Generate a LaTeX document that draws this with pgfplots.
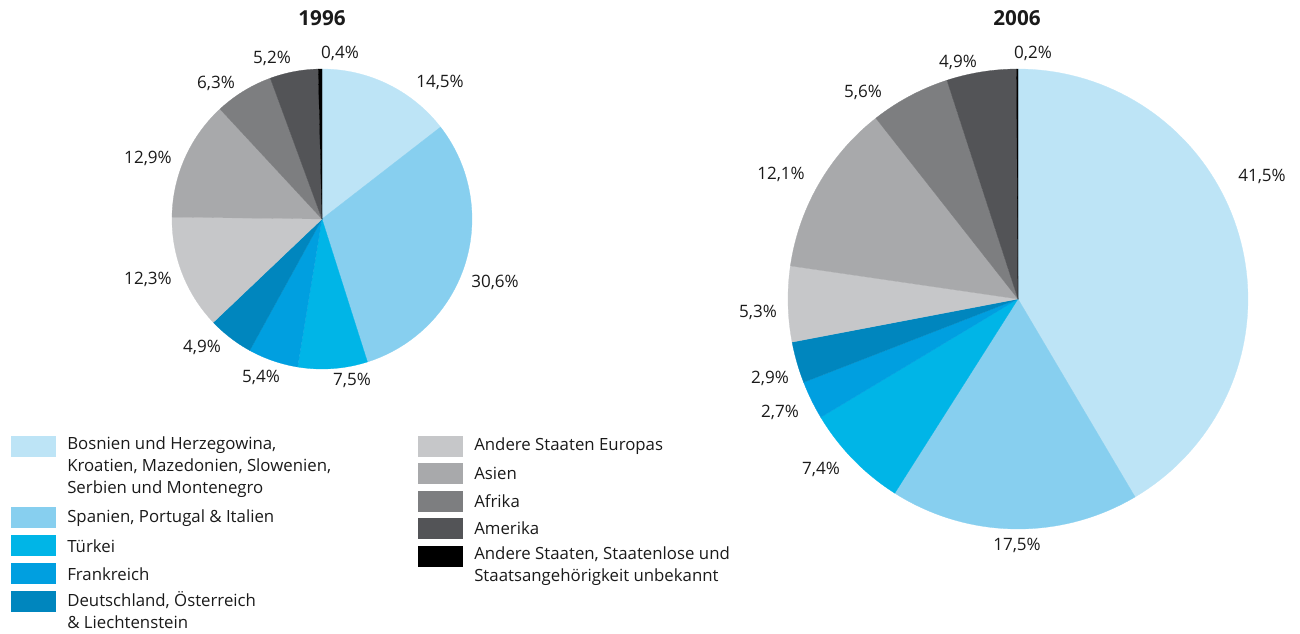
\documentclass[border=0pt]{standalone}
\usepackage{pgfplots}
\pgfplotsset{compat=1.18}
\usepackage{fontspec}
\setmainfont{Open Sans}
\definecolor{c1}{HTML}{BDE4F6}
\definecolor{c2}{HTML}{87CFEF}
\definecolor{c3}{HTML}{00B5E7}
\definecolor{c4}{HTML}{009FE0}
\definecolor{c5}{HTML}{0086BE}
\definecolor{c6}{HTML}{C6C7C9}
\definecolor{c7}{HTML}{A8A9AB}
\definecolor{c8}{HTML}{7D7E80}
\definecolor{c9}{HTML}{535457}
\definecolor{c10}{HTML}{000000}
\definecolor{txt}{HTML}{1A1A1A}
% #1 cx, #2 cy, #3 r, #4 cumulative start %, #5 cumulative end %, #6 colour
\newcommand{\sector}[6]{%
  \addplot[draw=#6, line width=0.2pt, fill=#6, domain={90-3.6*#5}:{90-3.6*#4}, samples=80]
    ({#1+#3*cos(x)},{#2+#3*sin(x)}) -- (axis cs:#1,#2) -- cycle;
}
\newcommand{\lab}[3]{\node[font=\fontsize{12.8}{15}\selectfont, text=txt] at (axis cs:#1,#2) {#3};}
\newcommand{\swatch}[3]{\fill[#3] (axis cs:#1,#2) rectangle (axis cs:#1+45,#2-21);}
\tikzset{leg/.style={inner sep=0pt, text=txt, font=\fontsize{12.6}{16.5}\selectfont}}
\begin{document}
\begin{tikzpicture}
\begin{axis}[
  at={(0,0)}, anchor=south west,
  scale only axis, width=975pt, height=474.75pt,
  xmin=0, xmax=1300, ymin=0, ymax=633,
  hide axis, clip=false,
]
% ---- 1996: shares 14.5 30.6 7.5 5.4 4.9 12.3 12.9 6.3 5.2 0.4
\sector{322}{414}{150}{0}{14.5}{c1}
\sector{322}{414}{150}{14.5}{45.1}{c2}
\sector{322}{414}{150}{45.1}{52.6}{c3}
\sector{322}{414}{150}{52.6}{58.0}{c4}
\sector{322}{414}{150}{58.0}{62.9}{c5}
\sector{322}{414}{150}{62.9}{75.2}{c6}
\sector{322}{414}{150}{75.2}{88.1}{c7}
\sector{322}{414}{150}{88.1}{94.4}{c8}
\sector{322}{414}{150}{94.4}{99.6}{c9}
\sector{322}{414}{150}{99.6}{100}{c10}
% ---- 2006: shares 41.5 17.5 7.4 2.7 2.9 5.3 12.1 5.6 4.9 0.2
\sector{1018}{334}{230}{0}{41.5}{c1}
\sector{1018}{334}{230}{41.5}{59.0}{c2}
\sector{1018}{334}{230}{59.0}{66.4}{c3}
\sector{1018}{334}{230}{66.4}{69.1}{c4}
\sector{1018}{334}{230}{69.1}{72.0}{c5}
\sector{1018}{334}{230}{72.0}{77.3}{c6}
\sector{1018}{334}{230}{77.3}{89.4}{c7}
\sector{1018}{334}{230}{89.4}{95.0}{c8}
\sector{1018}{334}{230}{95.0}{99.9}{c9}
\sector{1018}{334}{230}{99.9}{100}{c10}
% titles
\node[font=\fontsize{15.5}{17}\selectfont\bfseries, text=txt] at (axis cs:322,615) {1996};
\node[font=\fontsize{15.5}{17}\selectfont\bfseries, text=txt] at (axis cs:1017,615) {2006};
% labels 1996
\lab{440}{551}{14,5\%}
\lab{495}{351}{30,6\%}
\lab{352}{253}{7,5\%}
\lab{261}{256}{5,4\%}
\lab{202}{286}{4,9\%}
\lab{148}{354}{12,3\%}
\lab{148}{475}{12,9\%}
\lab{216}{550}{6,3\%}
\lab{272}{575}{5,2\%}
\lab{340}{580}{0,4\%}
% labels 2006
\lab{1262}{457}{41,5\%}
\lab{1017}{88}{17,5\%}
\lab{821}{164}{7,4\%}
\lab{780}{221}{2,7\%}
\lab{770}{255}{2,9\%}
\lab{758}{321}{5,3\%}
\lab{781}{459}{12,1\%}
\lab{863}{541}{5,6\%}
\lab{958}{571}{4,9\%}
\lab{1033}{580}{0,2\%}
% legend left column
\swatch{11}{197}{c1}
\swatch{11}{126}{c2}
\swatch{11}{98}{c3}
\swatch{11}{70}{c4}
\swatch{11}{42}{c5}
\node[leg, anchor=north west, align=left] at (axis cs:67,197) {Bosnien und Herzegowina,\\Kroatien, Mazedonien, Slowenien,\\Serbien und Montenegro};
\node[leg, anchor=west] at (axis cs:67,115) {Spanien, Portugal \& Italien};
\node[leg, anchor=west] at (axis cs:67,87) {Türkei};
\node[leg, anchor=west] at (axis cs:67,59) {Frankreich};
\node[leg, anchor=north west, align=left] at (axis cs:67,42) {Deutschland, Österreich\\\& Liechtenstein};
% legend right column
\swatch{418}{197}{c6}
\swatch{418}{170}{c7}
\swatch{418}{142}{c8}
\swatch{418}{115}{c9}
\swatch{418}{87}{c10}
\node[leg, anchor=west] at (axis cs:474,187) {Andere Staaten Europas};
\node[leg, anchor=west] at (axis cs:474,160) {Asien};
\node[leg, anchor=west] at (axis cs:474,132) {Afrika};
\node[leg, anchor=west] at (axis cs:474,105) {Amerika};
\node[leg, anchor=north west, align=left] at (axis cs:474,87) {Andere Staaten, Staatenlose und\\Staatsangehörigkeit unbekannt};
\end{axis}
\pgfresetboundingbox
\path[use as bounding box] (0,0) rectangle (975pt,474.75pt);
\end{tikzpicture}
\end{document}
